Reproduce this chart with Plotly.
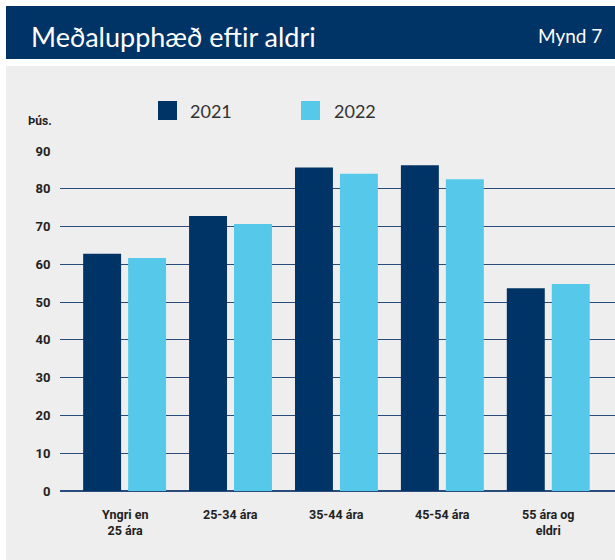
import plotly.graph_objects as go

# ---- data ----
categories = ["Yngri en<br>25 ára", "25-34 ára", "35-44 ára", "45-54 ára", "55 ára og<br>eldri"]
values_2021 = [62.8, 72.8, 85.6, 86.2, 53.7]
values_2022 = [61.7, 70.7, 84.0, 82.5, 54.8]
series_names = ["2021", "2022"]
y_ticks = [0, 10, 20, 30, 40, 50, 60, 70, 80, 90]
title_text = "Meðalupphæð eftir aldri"
figure_label = "Mynd 7"
unit_label = "Þús."

NAVY = "#003366"
LIGHT = "#56c9ea"
BG = "#eeeeee"
GRID = "#2a4c7c"
TXT = "#222222"

W, H = 615, 560
L, R, T, B = 60, 0, 151, 69
PW, PH = W - L - R, H - T - B


def fx(p):
    return (p - L) / PW


def fy(p):
    return (H - B - p) / PH


fig = go.Figure()
fig.add_trace(go.Bar(x=categories, y=values_2021, name=series_names[0],
                     marker=dict(color=NAVY, line=dict(width=0))))
fig.add_trace(go.Bar(x=categories, y=values_2022, name=series_names[1],
                     marker=dict(color=LIGHT, line=dict(width=0))))

shapes = [
    dict(type="rect", xref="paper", yref="paper", x0=fx(6), x1=fx(615), y0=fy(560), y1=fy(66),
         fillcolor=BG, line=dict(width=0), layer="below"),
    dict(type="rect", xref="paper", yref="paper", x0=fx(6), x1=fx(615), y0=fy(59), y1=fy(6),
         fillcolor=NAVY, line=dict(width=0), layer="below"),
    dict(type="rect", xref="paper", yref="paper", x0=fx(158), x1=fx(177), y0=fy(120), y1=fy(101),
         fillcolor=NAVY, line=dict(width=0), layer="above"),
    dict(type="rect", xref="paper", yref="paper", x0=fx(301), x1=fx(320), y0=fy(120), y1=fy(101),
         fillcolor=LIGHT, line=dict(width=0), layer="above"),
]

annotations = [
    dict(text=title_text, xref="paper", yref="paper", x=fx(29), y=fy(36), xanchor="left", yanchor="middle",
         showarrow=False, font=dict(family="Lato, Open Sans, sans-serif", size=27, color="white")),
    dict(text=figure_label, xref="paper", yref="paper", x=fx(604), y=fy(35), xanchor="right", yanchor="middle",
         showarrow=False, font=dict(family="Lato, Open Sans, sans-serif", size=19, color="white")),
    dict(text="<b>" + unit_label + "</b>", xref="paper", yref="paper", x=fx(26), y=fy(121), xanchor="left",
         yanchor="middle", showarrow=False, font=dict(family="Roboto, sans-serif", size=12, color=TXT)),
    dict(text=series_names[0], xref="paper", yref="paper", x=fx(188), y=fy(111), xanchor="left",
         yanchor="middle", showarrow=False, font=dict(family="Lato, Open Sans, sans-serif", size=18, color="#333333")),
    dict(text=series_names[1], xref="paper", yref="paper", x=fx(332), y=fy(111), xanchor="left",
         yanchor="middle", showarrow=False, font=dict(family="Lato, Open Sans, sans-serif", size=18, color="#333333")),
]

# category labels below the axis
for cat in categories:
    annotations.append(dict(
        text="<b>" + cat + "</b>", xref="x", yref="paper", x=cat, y=fy(505),
        xanchor="center", yanchor="top", showarrow=False, align="center",
        font=dict(family="Roboto, sans-serif", size=12.5, color=TXT)))

fig.update_layout(
    width=W, height=H,
    margin=dict(l=L, r=R, t=T, b=B, pad=0),
    paper_bgcolor="white",
    plot_bgcolor="rgba(0,0,0,0)",
    barmode="group",
    bargap=0.151,
    bargroupgap=0.156,
    showlegend=False,
    shapes=shapes,
    annotations=annotations,
    xaxis=dict(
        range=[-0.61, 4.63],
        showgrid=False, showline=False, zeroline=False,
        showticklabels=False, ticks="",
    ),
    yaxis=dict(
        range=[0, 90],
        tickvals=y_ticks,
        showgrid=True, gridcolor=GRID, gridwidth=1.1,
        zeroline=True, zerolinecolor=GRID, zerolinewidth=2,
        showline=False,
        ticks="outside", ticklen=6, tickcolor="rgba(0,0,0,0)",
        tickfont=dict(family="Roboto, sans-serif", size=13, color=TXT, weight="bold"),
    ),
)

fig.write_html("out.html", config={"displayModeBar": False},
               post_script="document.body.style.margin='0';document.body.style.overflow='hidden';")
